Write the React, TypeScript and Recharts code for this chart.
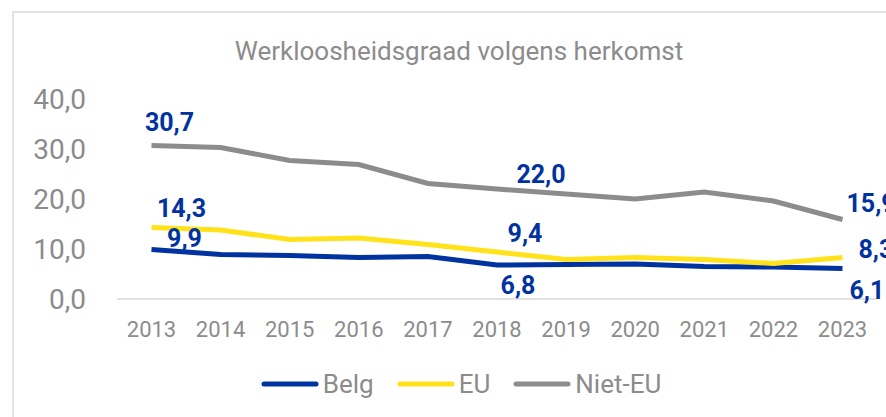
import React from "react";
import { LineChart, Line, XAxis, YAxis, Legend, LabelList } from "recharts";

const years = ["2013", "2014", "2015", "2016", "2017", "2018", "2019", "2020", "2021", "2022", "2023"];
const belg = [9.9, 8.9, 8.7, 8.3, 8.5, 6.8, 6.9, 7.0, 6.5, 6.4, 6.1];
const eu = [14.3, 13.8, 11.9, 12.2, 10.9, 9.4, 7.9, 8.3, 7.9, 7.1, 8.3];
const nietEu = [30.7, 30.3, 27.7, 26.9, 23.1, 22.0, 21.0, 20.0, 21.4, 19.6, 15.9];
const yTicks = [0, 10, 20, 30, 40];

const data = years.map((year, i) => ({
  year,
  belg: belg[i],
  eu: eu[i],
  nietEu: nietEu[i],
}));

const FONT = "Roboto, sans-serif";
const GREY = "#8c8c8c";
const BLUE = "#0033a0";

const series = [
  { key: "belg", name: "Belg", color: "#0033a0" },
  { key: "eu", name: "EU", color: "#ffe21a" },
  { key: "nietEu", name: "Niet-EU", color: "#8c8c8c" },
];

// where each shown data label sits relative to its point (Excel placement)
const labelPos: Record<string, Record<number, { dx: number; dy: number; anchor: string }>> = {
  belg: { 0: { dx: 33, dy: -12, anchor: "middle" }, 5: { dx: 21, dy: 20, anchor: "middle" }, 10: { dx: 7, dy: 21, anchor: "start" } },
  eu: { 0: { dx: 30, dy: -20, anchor: "middle" }, 5: { dx: 28, dy: -19, anchor: "middle" }, 10: { dx: 16, dy: -9, anchor: "start" } },
  nietEu: { 0: { dx: 18, dy: -24, anchor: "middle" }, 5: { dx: 44, dy: -15, anchor: "middle" }, 10: { dx: 4, dy: -17, anchor: "start" } },
};

const fmt = (v: number) => v.toFixed(1).replace(".", ",");

const makeLabel = (key: string) => (props: any) => {
  const { x, y, value, index } = props;
  const pos = labelPos[key][index];
  if (!pos) return null;
  return (
    <text
      x={x + pos.dx}
      y={y + pos.dy + 9}
      textAnchor={pos.anchor}
      fill={BLUE}
      fontFamily={FONT}
      fontWeight={700}
      fontSize={25}
    >
      {fmt(value)}
    </text>
  );
};

const LegendContent = () => (
  <div
    style={{
      display: "flex",
      justifyContent: "center",
      alignItems: "center",
      height: 36,
      width: 886,
      paddingLeft: 36,
      boxSizing: "border-box",
      fontFamily: FONT,
      fontSize: 26,
      color: GREY,
    }}
  >
    {series.map((s, i) => (
      <div key={s.key} style={{ display: "flex", alignItems: "center", marginLeft: i === 0 ? 0 : 23 }}>
        <svg width={58} height={8} style={{ marginRight: 4 }}>
          <line x1={3} y1={4} x2={55} y2={4} stroke={s.color} strokeWidth={5} strokeLinecap="round" />
        </svg>
        <span>{s.name}</span>
      </div>
    ))}
  </div>
);

export default function App() {
  return (
    <div>
      <div
        style={{
          position: "absolute",
          left: 12,
          top: 11,
          width: 874,
          height: 406,
          borderTop: "2px solid #e3e3e3",
          borderLeft: "2px solid #e3e3e3",
          boxSizing: "border-box",
        }}
      />
      <div
        style={{
          position: "absolute",
          left: 0,
          top: 36,
          width: 886,
          paddingLeft: 32,
          boxSizing: "border-box",
          textAlign: "center",
          fontFamily: FONT,
          fontSize: 26,
          lineHeight: "30px",
          color: GREY,
          whiteSpace: "nowrap",
        }}
      >
        Werkloosheidsgraad volgens herkomst
      </div>
      <div style={{ position: "absolute", left: 0, top: 0 }}>
        <LineChart
          width={886}
          height={417}
          data={data}
          margin={{ top: 99, right: 9, left: 0, bottom: 15 }}
          style={{ fontFamily: FONT }}
        >
          <XAxis
            dataKey="year"
            padding={{ left: 34.5, right: 34.5 }}
            height={67}
            tickLine={false}
            tickSize={0}
            tickMargin={22}
            axisLine={{ stroke: "#d9d9d9", strokeWidth: 1.5 }}
            tick={{ fill: GREY, fontSize: 22, fontFamily: FONT }}
            interval={0}
          />
          <YAxis
            width={117}
            domain={[0, 40]}
            ticks={yTicks}
            tickFormatter={fmt}
            axisLine={false}
            tickLine={false}
            tickSize={0}
            tickMargin={31}
            tick={{ fill: GREY, fontSize: 28, fontFamily: FONT }}
          />
          <Legend verticalAlign="bottom" content={<LegendContent />} wrapperStyle={{ left: 0, width: 886 }} />
          {series.map((s) => (
            <Line
              key={s.key}
              type="linear"
              dataKey={s.key}
              name={s.name}
              stroke={s.color}
              strokeWidth={5}
              dot={false}
              activeDot={false}
              isAnimationActive={false}
            >
              <LabelList dataKey={s.key} content={makeLabel(s.key)} />
            </Line>
          ))}
        </LineChart>
      </div>
    </div>
  );
}
